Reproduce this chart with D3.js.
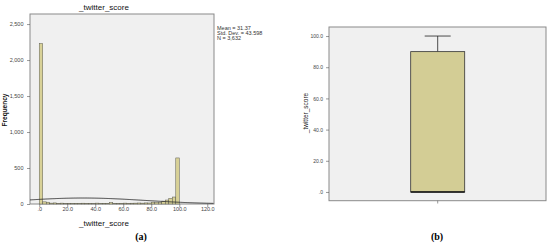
<!DOCTYPE html>
<html>
<head>
<meta charset="utf-8">
<script src="https://cdn.jsdelivr.net/npm/d3@7"></script>
<style>
  body { margin: 0; background: #fff; }
  svg text { font-family: "Liberation Sans", Arial, sans-serif; }
</style>
</head>
<body>
<div id="chart"></div>
<script>
(function() {

	// histogram bins (start of each 2.5 wide bin) and counts
	var binStarts = d3.range(0, 100, 2.5);
	var counts = [2230, 30, 25, 12, 15, 10, 12, 8, 10, 9,
	              10, 8, 11, 9, 10, 8, 12, 9, 10, 8,
	              20, 8, 10, 9, 12, 10, 11, 12, 14, 12,
	              15, 14, 25, 22, 24, 40, 55, 78, 97, 640];
	var binWidth = 2.5;
	var histXTicks = [0, 20, 40, 60, 80, 100, 120];
	var histXLabels = [".0", "20.0", "40.0", "60.0", "80.0", "100.0", "120.0"];
	var histYTicks = [0, 500, 1000, 1500, 2000, 2500];
	var histYLabels = ["0", "500", "1,000", "1,500", "2,000", "2,500"];
	var statLines = ["Mean = 31.37", "Std. Dev. = 43.598", "N = 3,632"];
	var mean = 31.37, sd = 43.598, n = 3632;

	// boxplot summary
	var boxStats = { min: 0, q1: 0, median: 0, q3: 90, max: 100 };
	var boxYTicks = [0, 20, 40, 60, 80, 100];
	var boxYLabels = [".0", "20.0", "40.0", "60.0", "80.0", "100.0"];

	var barFill = "#d8d197", barStroke = "#5a5a50", plotBg = "#f0f0f0", frameCol = "#8a8a8a";

	var svg = d3.select("#chart").append("svg")
		.attr("width", 550).attr("height", 248);

	//---------------- panel (a): histogram
	var x = d3.scaleLinear().domain([-6.6, 124.8]).range([30, 214]);
	var y = d3.scaleLinear().domain([0, 2640]).range([204, 14]);

	svg.append("rect")
		.attr("x", 30).attr("y", 14).attr("width", 184).attr("height", 190)
		.attr("fill", plotBg).attr("stroke", frameCol).attr("stroke-width", 1);

	svg.selectAll(".bar")
		.data(counts)
		.enter().append("rect")
		.attr("class", "bar")
		.attr("x", function(d, i) { return x(binStarts[i]); })
		.attr("width", function(d, i) { return x(binStarts[i] + binWidth) - x(binStarts[i]); })
		.attr("y", function(d) { return y(d); })
		.attr("height", function(d) { return y(0) - y(d); })
		.attr("fill", barFill)
		.attr("stroke", barStroke)
		.attr("stroke-width", 0.5);

	// fitted normal curve from the shown mean / sd / N
	var curvePts = d3.range(-6.6, 124.9, 0.5).map(function(v) {
		var dens = Math.exp(-Math.pow(v - mean, 2) / (2 * sd * sd)) / (sd * Math.sqrt(2 * Math.PI));
		return [v, dens * n * binWidth];
	});
	svg.append("path")
		.datum(curvePts)
		.attr("fill", "none")
		.attr("stroke", "#2a2a2a")
		.attr("stroke-width", 0.9)
		.attr("d", d3.line().x(function(d) { return x(d[0]); }).y(function(d) { return y(d[1]); }));

	var xAxis = d3.axisBottom(x).tickValues(histXTicks).tickSize(3)
		.tickFormat(function(d, i) { return histXLabels[i]; });
	var gx = svg.append("g").attr("transform", "translate(0,204)").call(xAxis);
	var yAxis = d3.axisLeft(y).tickValues(histYTicks).tickSize(3)
		.tickFormat(function(d, i) { return histYLabels[i]; });
	var gy = svg.append("g").attr("transform", "translate(30,0)").call(yAxis);
	[gx, gy].forEach(function(g) {
		g.select(".domain").remove();
		g.selectAll("line").attr("stroke", "#555").attr("stroke-width", 0.6);
		g.selectAll("text").attr("fill", "#444").style("font-size", "5.5px");
	});
	gx.selectAll("text").attr("dy", "0.2em");
	gy.selectAll("text").attr("dx", "-0.1em");

	svg.append("text").attr("x", 104).attr("y", 9.5).attr("text-anchor", "middle")
		.style("font-size", "8px").attr("fill", "#111").text("_twitter_score");
	svg.append("text").attr("x", 104).attr("y", 225.5).attr("text-anchor", "middle")
		.style("font-size", "8px").attr("fill", "#111").text("_twitter_score");
	svg.append("text").attr("transform", "translate(7,110) rotate(-90)")
		.attr("text-anchor", "middle").style("font-size", "6.5px").style("font-weight", "bold")
		.attr("fill", "#111").text("Frequency");

	svg.selectAll(".stat")
		.data(statLines)
		.enter().append("text")
		.attr("class", "stat")
		.attr("x", 217)
		.attr("y", function(d, i) { return 30 + i * 5; })
		.style("font-size", "5.5px").attr("fill", "#333")
		.text(function(d) { return d; });

	svg.append("text").attr("x", 141).attr("y", 240).attr("text-anchor", "middle")
		.style("font-family", "'Liberation Serif', serif").style("font-size", "10px")
		.style("font-weight", "bold").text("(a)");

	//---------------- panel (b): boxplot
	var by = d3.scaleLinear().domain([-5.6, 105.8]).range([200.7, 27]);
	var bx = 437.7, bw = 54, capW = 26;

	svg.append("rect")
		.attr("x", 329).attr("y", 27).attr("width", 217).attr("height", 173.7)
		.attr("fill", plotBg).attr("stroke", frameCol).attr("stroke-width", 1);

	svg.append("line")
		.attr("x1", bx).attr("x2", bx).attr("y1", by(boxStats.q3)).attr("y2", by(boxStats.max))
		.attr("stroke", "#222").attr("stroke-width", 0.8);
	svg.append("line")
		.attr("x1", bx - capW / 2).attr("x2", bx + capW / 2).attr("y1", by(boxStats.max)).attr("y2", by(boxStats.max))
		.attr("stroke", "#222").attr("stroke-width", 0.8);
	svg.append("rect")
		.attr("x", bx - bw / 2).attr("width", bw)
		.attr("y", by(boxStats.q3)).attr("height", by(boxStats.q1) - by(boxStats.q3))
		.attr("fill", "#d3cd95").attr("stroke", "#333").attr("stroke-width", 0.8);
	svg.append("line")
		.attr("x1", bx - bw / 2).attr("x2", bx + bw / 2).attr("y1", by(boxStats.median)).attr("y2", by(boxStats.median))
		.attr("stroke", "#111").attr("stroke-width", 1.6);

	var byAxis = d3.axisLeft(by).tickValues(boxYTicks).tickSize(3)
		.tickFormat(function(d, i) { return boxYLabels[i]; });
	var gby = svg.append("g").attr("transform", "translate(329,0)").call(byAxis);
	gby.select(".domain").remove();
	gby.selectAll("line").attr("stroke", "#555").attr("stroke-width", 0.6);
	gby.selectAll("text").attr("fill", "#444").style("font-size", "5px");

	svg.append("line").attr("x1", bx).attr("x2", bx).attr("y1", 200.7).attr("y2", 203.5)
		.attr("stroke", "#555").attr("stroke-width", 0.6);

	svg.append("text").attr("transform", "translate(308,113) rotate(-90)")
		.attr("text-anchor", "middle").style("font-size", "6.5px")
		.attr("fill", "#222").text("_twitter_score");

	svg.append("text").attr("x", 437).attr("y", 240).attr("text-anchor", "middle")
		.style("font-family", "'Liberation Serif', serif").style("font-size", "10px")
		.style("font-weight", "bold").text("(b)");

})();
</script>
</body>
</html>
